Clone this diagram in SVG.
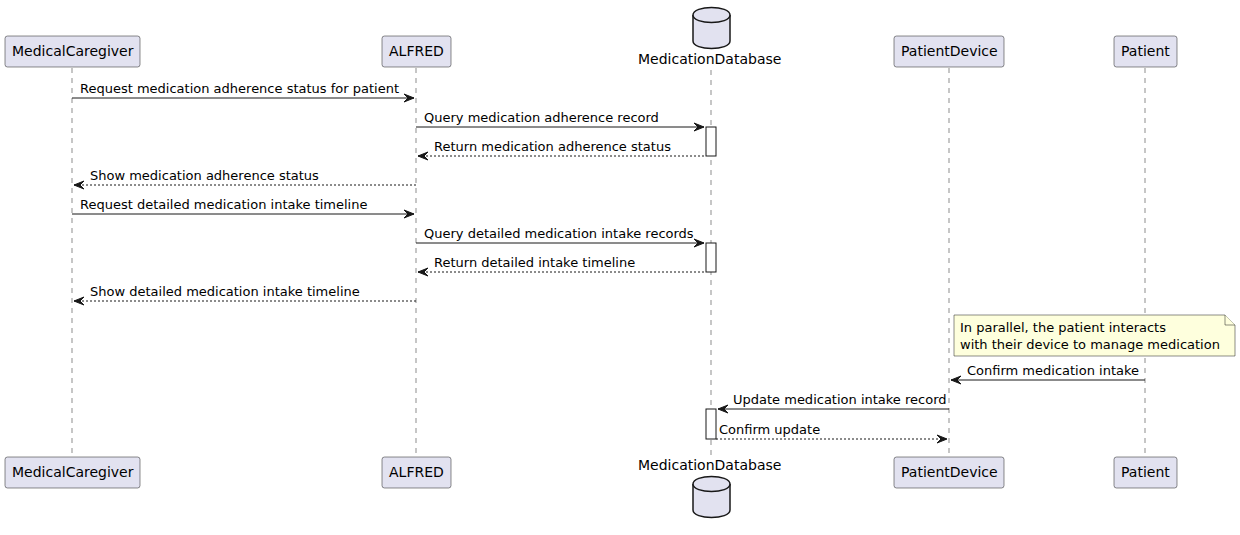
<svg xmlns="http://www.w3.org/2000/svg" width="1240" height="535" viewBox="0 0 1240 535">
<defs>
<style>
.box{fill:#E2E2F0;stroke:#181818;stroke-width:0.5}
.life{stroke:#181818;stroke-width:0.5;stroke-dasharray:5,5;fill:none}
.pl{font-family:"DejaVu Sans",sans-serif;font-size:14px;fill:#000}
.ml{font-family:"DejaVu Sans",sans-serif;font-size:13px;fill:#000}
.msg{stroke:#181818;stroke-width:1;fill:none}
.ret{stroke:#181818;stroke-width:1;fill:none;stroke-dasharray:2,2}
.act{fill:#FFFFFF;stroke:#181818;stroke-width:1}
.db{fill:#E2E2F0;stroke:#181818;stroke-width:1.5}
.note{fill:#FEFFDD;stroke:#181818;stroke-width:0.5}
.ah{fill:#181818;stroke:#181818;stroke-width:1}
</style>
</defs>
<rect width="1240" height="535" fill="#FFFFFF"/>
<g id="lifelines">
<line class="life" x1="72" y1="68" x2="72" y2="457"/>
<line class="life" x1="416" y1="68" x2="416" y2="457"/>
<line class="life" x1="711" y1="70" x2="711" y2="457"/>
<line class="life" x1="949" y1="68" x2="949" y2="457"/>
<line class="life" x1="1145" y1="68" x2="1145" y2="457"/>
</g>
<g id="MedicalCaregiver">
<rect class="box" x="5" y="36" width="135" height="31" rx="2.5"/>
<text class="pl" x="12" y="56">MedicalCaregiver</text>
<rect class="box" x="5" y="457" width="135" height="31" rx="2.5"/>
<text class="pl" x="12" y="477">MedicalCaregiver</text>
</g>
<g id="ALFRED">
<rect class="box" x="382" y="36" width="69" height="31" rx="2.5"/>
<text class="pl" x="389" y="56">ALFRED</text>
<rect class="box" x="382" y="457" width="69" height="31" rx="2.5"/>
<text class="pl" x="389" y="477">ALFRED</text>
</g>
<g id="MedicationDatabase">
<path class="db" d="M693,15 C693,5 730,5 730,15 L730,41 C730,51 693,51 693,41 Z"/>
<path class="db" d="M693,15 C693,25 730,25 730,15" fill="none"/>
<text class="pl" x="638" y="64">MedicationDatabase</text>
<text class="pl" x="638" y="470">MedicationDatabase</text>
<path class="db" d="M693,484 C693,474 730,474 730,484 L730,510 C730,520 693,520 693,510 Z"/>
<path class="db" d="M693,484 C693,494 730,494 730,484" fill="none"/>
</g>
<g id="PatientDevice">
<rect class="box" x="894" y="36" width="110" height="31" rx="2.5"/>
<text class="pl" x="901" y="56">PatientDevice</text>
<rect class="box" x="894" y="457" width="110" height="31" rx="2.5"/>
<text class="pl" x="901" y="477">PatientDevice</text>
</g>
<g id="Patient">
<rect class="box" x="1114" y="36" width="63" height="31" rx="2.5"/>
<text class="pl" x="1121" y="56">Patient</text>
<rect class="box" x="1114" y="457" width="63" height="31" rx="2.5"/>
<text class="pl" x="1121" y="477">Patient</text>
</g>
<g id="activations">
<rect class="act" x="706" y="127" width="10" height="29"/>
<rect class="act" x="706" y="243" width="10" height="29"/>
<rect class="act" x="706" y="409" width="10" height="30"/>
</g>
<g id="note">
<path class="note" d="M954,315 L1225,315 L1235,325 L1235,356 L954,356 Z"/>
<path class="note" d="M1225,315 L1225,325 L1235,325" fill="none"/>
<text class="ml" x="960" y="332">In parallel, the patient interacts</text>
<text class="ml" x="960" y="349">with their device to manage medication</text>
</g>
<g id="connectors">
<line class="msg" x1="72" y1="98" x2="414" y2="98"/>
<polygon class="ah" points="404,94 414,98 404,102 408,98"/>
<text class="ml" x="80" y="93">Request medication adherence status for patient</text>

<line class="msg" x1="416" y1="127" x2="704" y2="127"/>
<polygon class="ah" points="694,123 704,127 694,131 698,127"/>
<text class="ml" x="424" y="122">Query medication adherence record</text>

<line class="ret" x1="418" y1="156" x2="706" y2="156"/>
<polygon class="ah" points="428,152 418,156 428,160 424,156"/>
<text class="ml" x="434" y="151">Return medication adherence status</text>

<line class="ret" x1="74" y1="185" x2="416" y2="185"/>
<polygon class="ah" points="84,181 74,185 84,189 80,185"/>
<text class="ml" x="90" y="180">Show medication adherence status</text>

<line class="msg" x1="72" y1="214" x2="414" y2="214"/>
<polygon class="ah" points="404,210 414,214 404,218 408,214"/>
<text class="ml" x="80" y="209">Request detailed medication intake timeline</text>

<line class="msg" x1="416" y1="243" x2="704" y2="243"/>
<polygon class="ah" points="694,239 704,243 694,247 698,243"/>
<text class="ml" x="424" y="238">Query detailed medication intake records</text>

<line class="ret" x1="418" y1="272" x2="706" y2="272"/>
<polygon class="ah" points="428,268 418,272 428,276 424,272"/>
<text class="ml" x="434" y="267">Return detailed intake timeline</text>

<line class="ret" x1="74" y1="301" x2="416" y2="301"/>
<polygon class="ah" points="84,297 74,301 84,305 80,301"/>
<text class="ml" x="90" y="296">Show detailed medication intake timeline</text>

<line class="msg" x1="951" y1="380" x2="1145" y2="380"/>
<polygon class="ah" points="961,376 951,380 961,384 957,380"/>
<text class="ml" x="967" y="375">Confirm medication intake</text>

<line class="msg" x1="718" y1="409" x2="949" y2="409"/>
<polygon class="ah" points="728,405 718,409 728,413 724,409"/>
<text class="ml" x="733" y="404">Update medication intake record</text>

<line class="ret" x1="716" y1="439" x2="947" y2="439"/>
<polygon class="ah" points="937,435 947,439 937,443 941,439"/>
<text class="ml" x="719" y="434">Confirm update</text>
</g>
</svg>
